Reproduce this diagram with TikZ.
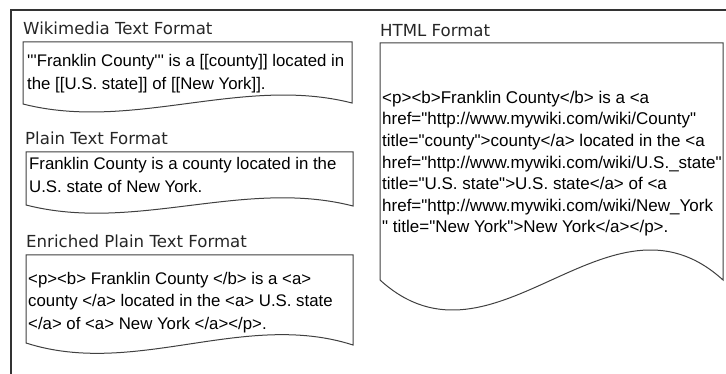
\documentclass[tikz,border=0pt]{standalone}
\usepackage{fontspec}
\setmainfont{Liberation Sans}[Ligatures=TeXOff]
\newfontfamily\titlefont{DejaVu Sans}[Ligatures=TeXOff]
\newcommand{\blines}[2]{\vtop{\baselineskip=#1pt #2}}
\begin{document}
\begin{tikzpicture}[x=1pt,y=-1pt,
  doc/.style={draw=black!75, line width=1pt, fill=white},
  frame/.style={draw=black!80, line width=1.4pt},
  title/.style={anchor=base west, inner sep=0pt, font=\titlefont\fontsize{16.6}{20}\selectfont, text=black!85},
  body/.style={anchor=base west, inner sep=0pt, font=\fontsize{16.8}{22}\selectfont, text=black}]
\useasboundingbox (0,0) rectangle (726,374);
\draw[frame] (11,374) -- (11,10) -- (726,10);
% documents
\draw[doc] (23,104) -- (23,42) -- (352,42) -- (352,103) .. controls (242.3,75) and (132.7,132) .. (23,104) -- cycle;
\draw[doc] (26,205) -- (26,152) -- (353,152) -- (353,206) .. controls (244,178) and (135,233) .. (26,205) -- cycle;
\draw[doc] (26,343) -- (26,255) -- (353,255) -- (353,345) .. controls (244,310) and (135,378) .. (26,343) -- cycle;
\draw[doc] (380,280) -- (380,43) -- (723,43) -- (723,280) .. controls (608.7,176) and (494.3,384) .. (380,280) -- cycle;
% titles
\node[title] (t1) at (23,35) {Wikimedia Text Format};
\node[title] (t2) at (25,145) {Plain Text Format};
\node[title] (t3) at (26,248) {Enriched Plain Text Format};
\node[title] (t4) at (380,37) {HTML Format};
% bodies
\node[body] (b1) at (27,67) {\blines{23}{\hbox{'''Franklin County''' is a [[county]] located in}\hbox{the [[U.S. state]] of [[New York]].}}};
\node[body] (b2) at (29,170) {\blines{23}{\hbox{Franklin County is a county located in the}\hbox{U.S. state of New York.}}};
\node[body] (b3) at (28,284) {\blines{22.5}{\hbox{<p><b> Franklin County </b> is a <a>}\hbox{county </a> located in the <a> U.S. state}\hbox{</a> of <a> New York </a></p>.}}};
\node[body, font=\fontsize{17}{22}\selectfont] (b4) at (382,103.4) {\blines{21.6}{%
\hbox{<p><b>Franklin County</b> is a <a}%
\hbox{href="http://www.mywiki.com/wiki/County"}%
\hbox{title="county">county</a> located in the <a}%
\hbox{href="http://www.mywiki.com/wiki/U.S.\_state"}%
\hbox{title="U.S. state">U.S. state</a> of <a}%
\hbox{href="http://www.mywiki.com/wiki/New\_York}%
\hbox{" title="New York">New York</a></p>.}}};
\end{tikzpicture}
\end{document}
